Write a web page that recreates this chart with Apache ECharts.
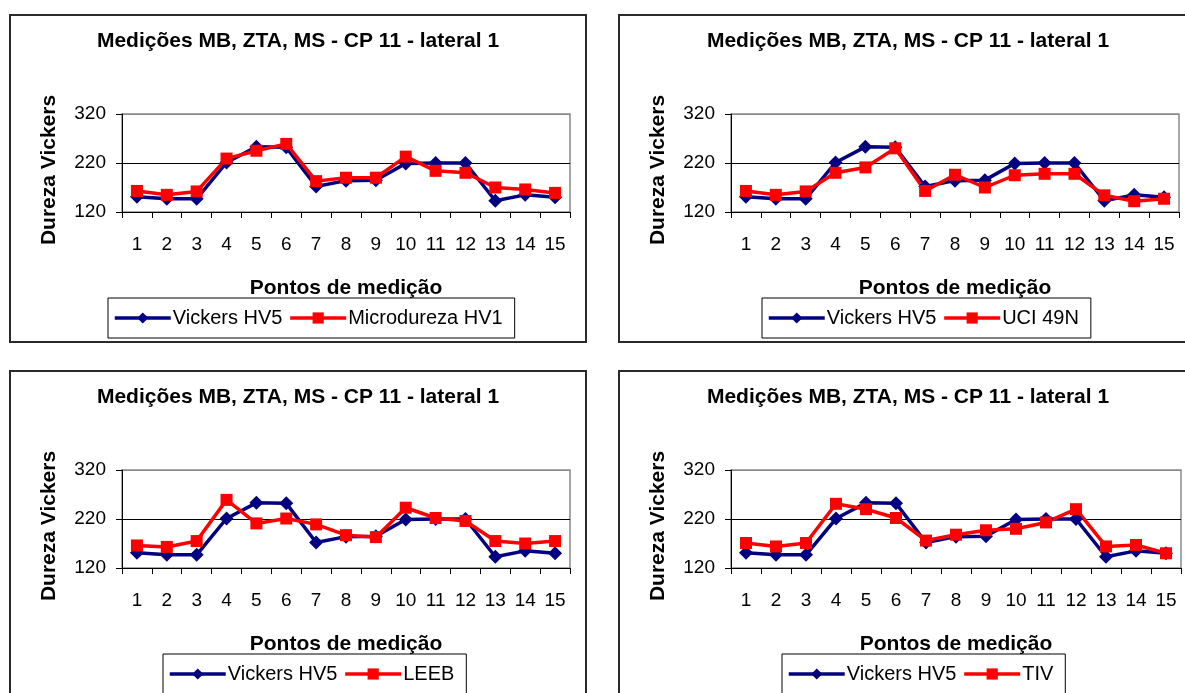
<!DOCTYPE html>
<html>
<head>
<meta charset="utf-8">
<script src="https://cdn.jsdelivr.net/npm/echarts@6/dist/echarts.min.js"></script>
<style>
  html, body { margin: 0; padding: 0; background: #fff; width: 1185px; height: 693px; overflow: hidden; position: relative; }
  .panel { position: absolute; box-sizing: border-box; border: 2px solid #2a2a2a; background: #fff; }
</style>
</head>
<body>
<div class="panel" id="p1" style="left:9px;top:14px;width:578px;height:329px"></div>
<div class="panel" id="p2" style="left:618px;top:14px;width:580px;height:329px"></div>
<div class="panel" id="p3" style="left:9px;top:370px;width:578px;height:340px"></div>
<div class="panel" id="p4" style="left:618px;top:370px;width:580px;height:340px"></div>
<script>
const pontos = ['1', '2', '3', '4', '5', '6', '7', '8', '9', '10', '11', '12', '13', '14', '15'];
const yTicks = [120, 220, 320];

const vickersHV5 = [151, 147, 147, 221, 253, 252, 172, 184, 185, 219, 220, 220, 143, 155, 150];
const microHV1 = [163, 155, 162, 229, 245, 259, 183, 190, 190, 233, 204, 200, 170, 166, 159];
const uci49N = [163, 155, 162, 200, 211, 250, 163, 196, 170, 195, 198, 198, 154, 142, 147];
const leeb = [166, 163, 175, 259, 211, 221, 209, 187, 183, 243, 222, 216, 175, 170, 175];
const tiv = [171, 164, 171, 251, 240, 222, 176, 188, 197, 200, 213, 240, 164, 167, 150];

const titulo = 'Medições MB, ZTA, MS - CP 11 - lateral 1';
const font = '"Liberation Sans", Arial, sans-serif';

function makeChart(id, otherName, otherData, legendLeft, gridWidth) {
  const chart = echarts.init(document.getElementById(id));
  const option = {
    animation: false,
    textStyle: { fontFamily: font, color: '#000' },
    title: {
      text: titulo,
      left: 'center',
      top: 10,
      textStyle: { fontFamily: font, fontSize: 21, fontWeight: 'bold', color: '#000' }
    },
    legend: {
      data: ['Vickers HV5', otherName],
      left: legendLeft,
      top: 282,
      orient: 'horizontal',
      borderColor: '#000',
      borderWidth: 1,
      padding: [10, 12, 10, 5],
      itemGap: 6,
      itemWidth: 56,
      itemHeight: 14,
      lineStyle: { width: 3.5 },
      textStyle: { fontFamily: font, fontSize: 20, color: '#000', padding: [0, 0, 0, -3] }
    },
    grid: {
      left: 111,
      top: 98,
      width: gridWidth,
      height: 98,
      show: true,
      borderColor: '#8a8a8a',
      borderWidth: 1.5,
      backgroundColor: '#fff'
    },
    xAxis: {
      type: 'category',
      data: pontos,
      boundaryGap: true,
      name: 'Pontos de medição',
      nameLocation: 'middle',
      nameGap: 66,
      nameTextStyle: { fontFamily: font, fontSize: 21, fontWeight: 'bold', color: '#000' },
      axisLine: { lineStyle: { color: '#000', width: 1 } },
      axisTick: { show: true, length: 6, lineStyle: { color: '#000' } },
      axisLabel: { margin: 23, fontSize: 19, color: '#000', interval: 0 }
    },
    yAxis: {
      type: 'value',
      min: yTicks[0],
      max: yTicks[yTicks.length - 1],
      interval: 100,
      name: 'Dureza Vickers',
      nameLocation: 'middle',
      nameGap: 62,
      nameTextStyle: { fontFamily: font, fontSize: 21, fontWeight: 'bold', color: '#000', padding: [0, 0, 0, -14] },
      axisLine: { show: true, lineStyle: { color: '#000', width: 1 } },
      axisTick: { show: true, length: 6, lineStyle: { color: '#000' } },
      axisLabel: { margin: 16, fontSize: 19, color: '#000' },
      splitLine: { show: true, lineStyle: { color: ['#000', '#000', '#8a8a8a'], width: 1 } }
    },
    series: [
      {
        name: 'Vickers HV5',
        type: 'line',
        data: vickersHV5,
        symbol: 'diamond',
        symbolSize: 14,
        color: '#000080',
        lineStyle: { color: '#000080', width: 3.5 },
        itemStyle: { color: '#000080' }
      },
      {
        name: otherName,
        type: 'line',
        data: otherData,
        symbol: 'rect',
        symbolSize: 12,
        color: '#ff0000',
        lineStyle: { color: '#ff0000', width: 3.5 },
        itemStyle: { color: '#ff0000' }
      }
    ]
  };
  chart.setOption(option);
  return chart;
}

makeChart('p1', 'Microdureza HV1', microHV1, 97, 448);
makeChart('p2', 'UCI 49N', uci49N, 142, 448);
makeChart('p3', 'LEEB', leeb, 152, 448);
makeChart('p4', 'TIV', tiv, 162, 450);
</script>
</body>
</html>
